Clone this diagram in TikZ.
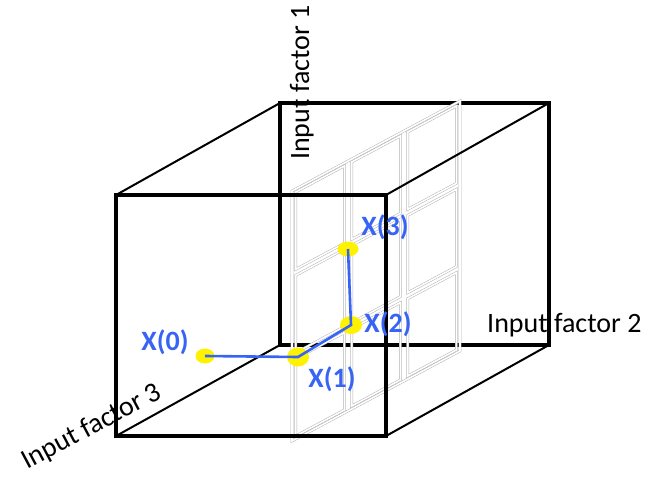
\documentclass[tikz,border=0pt]{standalone}
\usepackage{fontspec}
\setmainfont{Carlito}
\usetikzlibrary{shapes.geometric}
\definecolor{ptblue}{RGB}{55,100,245}
\definecolor{ptyellow}{RGB}{255,242,0}
\tikzset{
  thickedge/.style={line width=4.6pt, line cap=rect},
  thinedge/.style={line width=2pt},
  gridcell/.style={draw=black!30, line width=0.5pt, double=white, double distance=1.6pt},
  axislab/.style={font=\fontsize{28}{30}\selectfont, inner sep=0pt, text=black},
  ptlab/.style={font=\fontsize{28}{30}\selectfont\bfseries, inner sep=0pt, text=ptblue},
  ptdot/.style={ellipse, fill=ptyellow, inner sep=0pt},
  blueline/.style={draw=ptblue, line width=2.6pt}
}
\begin{document}
\begin{tikzpicture}[x=1pt,y=-1pt]
\useasboundingbox (0,0) rectangle (652,476);
% cube corners
\coordinate (FTL) at (116,195);
\coordinate (FTR) at (386,195);
\coordinate (FBR) at (386,436);
\coordinate (FBL) at (116,436);
\coordinate (BTL) at (280,103);
\coordinate (BTR) at (549,103);
\coordinate (BBR) at (549,345);
\coordinate (BBL) at (280,345);
% back face
\draw[thickedge] (BTL) -- (BTR) -- (BBR) -- (BBL) -- cycle;
% grid plane
\foreach \i in {0,1,2}{
  \foreach \j in {0,1,2}{
    \pgfmathsetmacro\sa{\i/3+0.022}
    \pgfmathsetmacro\sb{(\i+1)/3-0.022}
    \pgfmathsetmacro\ta{\j/3+0.012}
    \pgfmathsetmacro\tb{(\j+1)/3-0.012}
    \draw[gridcell] ({292+168*\sa},{441-90*\sa-250*\ta}) -- ({292+168*\sb},{441-90*\sb-250*\ta})
       -- ({292+168*\sb},{441-90*\sb-250*\tb}) -- ({292+168*\sa},{441-90*\sa-250*\tb}) -- cycle;
  }
}
\draw[gridcell] (292,441) -- (460,351) -- (460,101) -- (292,191) -- cycle;
% connecting edges
\draw[thinedge] (FTL) -- (BTL);
\draw[thinedge] (FTR) -- (BTR);
\draw[thinedge] (FBR) -- (BBR);
\draw[thinedge] (FBL) -- (BBL);
% front face
\draw[thickedge] (FTL) -- (FTR) -- (FBR) -- (FBL) -- cycle;
% axis labels
\node[axislab, rotate=90, anchor=base west] (f1) at (309,160) {Input factor 1};
\node[axislab, anchor=base west] (f2) at (487,332) {Input factor 2};
\node[axislab, rotate=28, anchor=base west] (f3) at (27,470) {Input factor 3};
% points
\node[ptdot, minimum width=19pt, minimum height=15pt] (d0) at (205,356) {};
\node[ptdot, minimum width=22pt, minimum height=19pt] (d1) at (298,357) {};
\node[ptdot, minimum width=22pt, minimum height=18pt] (d2) at (351,325) {};
\node[ptdot, minimum width=21pt, minimum height=15pt] (d3) at (348,249) {};
\draw[blueline] (d0.center) -- (d1.center) -- (d2.center) -- (d3.center);
\node[ptlab] (l0) at (165,342) {X(0)};
\node[ptlab] (l1) at (332,379) {X(1)};
\node[ptlab] (l2) at (388,324) {X(2)};
\node[ptlab] (l3) at (385,227) {X(3)};
\end{tikzpicture}
\end{document}
